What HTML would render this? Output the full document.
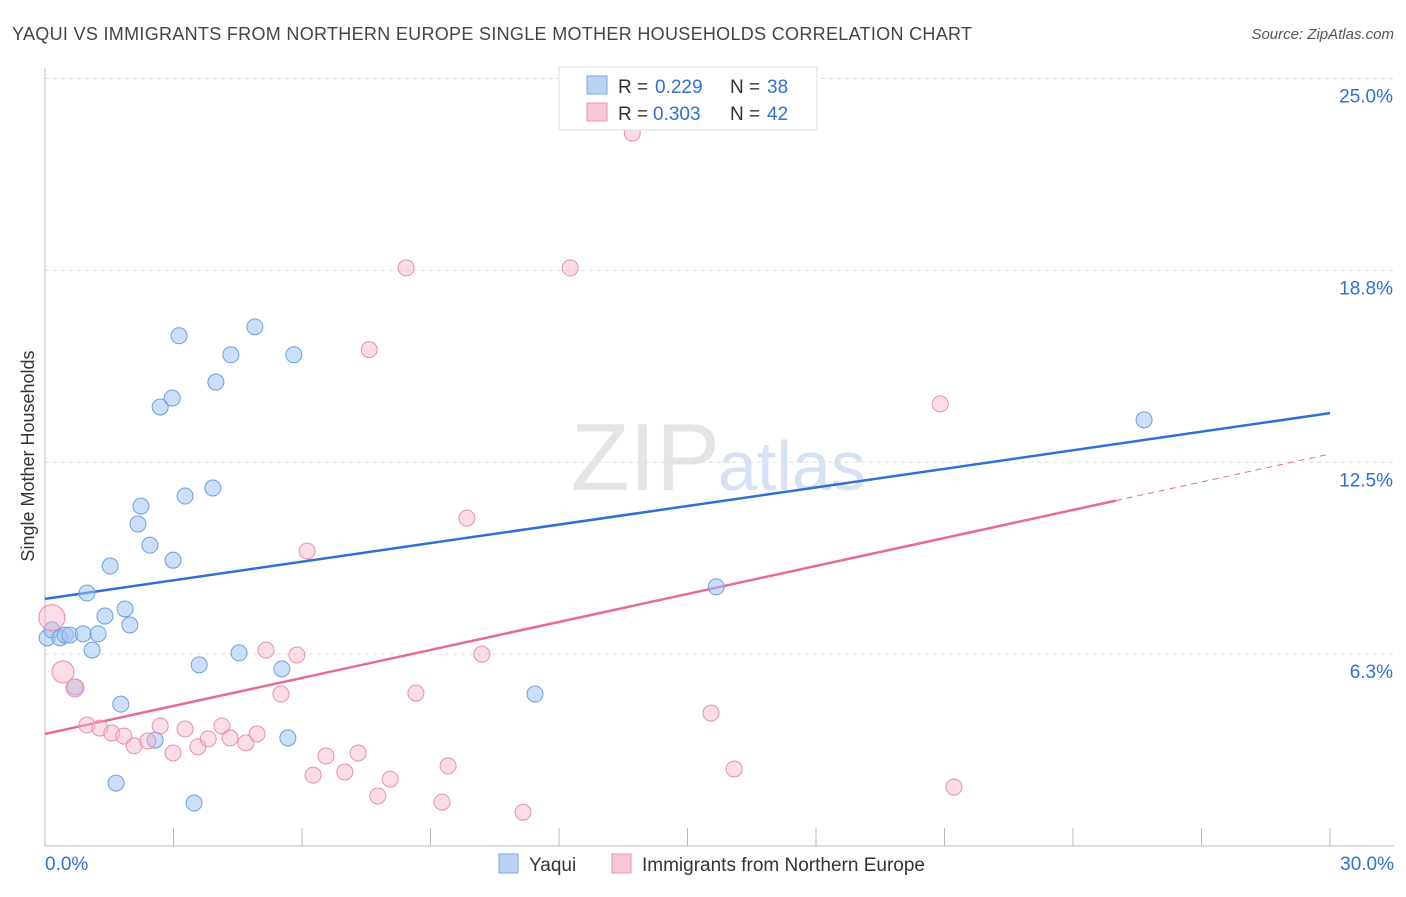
<!DOCTYPE html>
<html><head><meta charset="utf-8"><style>
body{margin:0;background:#fff;font-family:"Liberation Sans",sans-serif;}
svg text{font-family:"Liberation Sans",sans-serif;}
</style></head><body>
<svg id="chart" width="1406" height="892" viewBox="0 0 1406 892">
<text x="12" y="40" font-size="18" fill="#444" textLength="960">YAQUI VS IMMIGRANTS FROM NORTHERN EUROPE SINGLE MOTHER HOUSEHOLDS CORRELATION CHART</text>
<text x="1394" y="39" font-size="15" fill="#555" text-anchor="end" font-style="italic">Source: ZipAtlas.com</text>
<text x="720" y="490" font-size="96" fill="#e4e4e4" text-anchor="end" font-family="Liberation Serif">ZIP</text>
<text x="718" y="490" font-size="70" fill="#d6e2f3">atlas</text>
<text transform="translate(34,456) rotate(-90)" font-size="18" fill="#333" text-anchor="middle">Single Mother Households</text>
<g id="grid"></g><g id="axes"></g><g id="lines"></g><g id="pts"></g>
<g>
<rect x="559" y="67" width="258" height="63" fill="#fff" stroke="#ddd"/>
<rect x="587" y="76" width="20" height="18" fill="#b9d3f5" stroke="#7aa7e0"/>
<rect x="587" y="103" width="20" height="18" fill="#f9c6d6" stroke="#ec93b0"/>
<text x="618" y="93" font-size="19" fill="#333">R = </text><text x="655" y="93" font-size="19" fill="#2f6fd6">0.229</text>
<text x="730" y="93" font-size="19" fill="#333">N = </text><text x="767" y="93" font-size="19" fill="#2f6fd6">38</text>
<text x="618" y="120" font-size="19" fill="#333">R = </text><text x="653" y="120" font-size="19" fill="#2f6fd6">0.303</text>
<text x="730" y="120" font-size="19" fill="#333">N = </text><text x="767" y="120" font-size="19" fill="#2f6fd6">42</text>
</g>
<g>
<rect x="499" y="854" width="19" height="19" fill="#b9d3f5" stroke="#7aa7e0"/>
<text x="529" y="871" font-size="19" fill="#333">Yaqui</text>
<rect x="612" y="854" width="19" height="19" fill="#f9c6d6" stroke="#ec93b0"/>
<text x="642" y="871" font-size="19" fill="#333">Immigrants from Northern Europe</text>
</g>
</svg>
<script>
const yTicks=[6.25,12.5,18.75,25];
const yTickLabels=["6.3%","12.5%","18.8%","25.0%"];
const xTickLabels=["0.0%","30.0%"];
const yaquiX=[0.05,0.16,0.35,0.47,0.58,0.89,1.24,1.10,0.98,0.70,1.52,1.40,1.87,1.98,2.17,2.24,2.45,2.99,2.69,2.97,3.13,3.27,3.92,3.99,4.34,4.90,5.81,3.60,4.53,5.53,1.77,2.57,1.66,3.48,5.67,11.44,15.67,25.66];
const yaquiY=[6.78,7.04,6.78,6.87,6.87,6.91,6.91,6.38,8.24,5.18,9.12,7.49,7.72,7.20,10.49,11.07,9.80,9.31,14.30,14.59,16.62,11.40,11.66,15.11,16.00,16.91,16.00,5.90,6.29,5.77,4.62,3.45,2.05,1.40,3.52,4.95,8.44,13.88];
const nEurX=[0.16,0.42,0.70,0.98,1.28,1.56,1.84,2.08,2.40,2.69,2.99,3.27,3.57,3.81,4.13,4.32,4.69,4.95,5.16,5.51,5.88,6.12,6.26,6.56,7.00,7.31,7.77,8.06,8.43,7.57,8.66,9.27,9.41,10.20,9.85,11.16,12.26,13.71,15.55,16.09,20.90,21.22];
const nEurY=[7.44,5.67,5.15,3.94,3.84,3.68,3.58,3.26,3.42,3.91,3.03,3.81,3.23,3.49,3.91,3.52,3.36,3.65,6.38,4.95,6.22,9.61,2.31,2.93,2.41,3.03,1.63,2.18,18.83,16.17,4.98,1.43,2.61,6.25,10.68,1.10,18.83,23.22,4.33,2.51,14.40,1.92];
const nEurSize=[14,12,10,9,9,9,9,9,9,9,9,9,9,9,9,9,9,9,9,9,9,9,9,9,9,9,9,9,9,9,9,9,9,9,9,9,9,9,9,9,9,9];
const trendBlue=[8.05,14.1];
const trendPink=[3.65,12.77];
const NS="http://www.w3.org/2000/svg";
const X=v=>45+v*1285/30, Y=v=>846-v*30.7;
function mk(tag,attrs,parent){const e=document.createElementNS(NS,tag);for(const k in attrs)e.setAttribute(k,attrs[k]);document.getElementById(parent).appendChild(e);return e;}
yTicks.forEach((t,i)=>{
 const l=mk('line',{x1:45,x2:1394,y1:Y(t),y2:Y(t),stroke:'#ddd','stroke-dasharray':'4,4'},'grid');
 
 
 const tx=mk('text',{x:1393,y:Y(t)+24,'font-size':19,fill:'#2f6fd6','text-anchor':'end'},'axes');tx.textContent=yTickLabels[i];
 
 
});
const ax=mk('line',{x1:45,x2:1394,y1:846,y2:846,stroke:'#bbb'},'axes');


const ay=mk('line',{x1:45,x2:45,y1:68,y2:846,stroke:'#bbb'},'axes');


for(let i=1;i<=10;i++){const t=mk('line',{x1:X(i*3),x2:X(i*3),y1:828,y2:846,stroke:'#bbb'},'axes');
 
 }
const xl0=mk('text',{x:45,y:870,'font-size':19,fill:'#2f6fd6'},'axes');xl0.textContent=xTickLabels[0];


const xl1=mk('text',{x:1394,y:870,'font-size':19,fill:'#2f6fd6','text-anchor':'end'},'axes');xl1.textContent=xTickLabels[1];


const bl=mk('line',{x1:X(0),y1:Y(trendBlue[0]),x2:X(30),y2:Y(trendBlue[1]),stroke:'#2f6fd6','stroke-width':2.5},'lines');


const pAt=x=>trendPink[0]+(trendPink[1]-trendPink[0])*x/30;
const pl=mk('line',{x1:X(0),y1:Y(pAt(0)),x2:X(25),y2:Y(pAt(25)),stroke:'#e56a94','stroke-width':2.5},'lines');


const pd=mk('line',{x1:X(25),y1:Y(pAt(25)),x2:X(30),y2:Y(pAt(30)),stroke:'#e56a94','stroke-width':1,'stroke-dasharray':'6,5'},'lines');


yaquiX.forEach((x,i)=>{const c=mk('circle',{cx:X(x),cy:Y(yaquiY[i]),r:8,fill:'rgba(160,196,242,0.55)',stroke:'#6d9fe0','stroke-width':1},'pts');
 
 });
nEurX.forEach((x,i)=>{const c=mk('circle',{cx:X(x),cy:Y(nEurY[i]),r:nEurSize[i]-1,fill:'rgba(247,180,202,0.45)',stroke:'#e98fae','stroke-width':1},'pts');
 
 });
</script>
</body></html>
